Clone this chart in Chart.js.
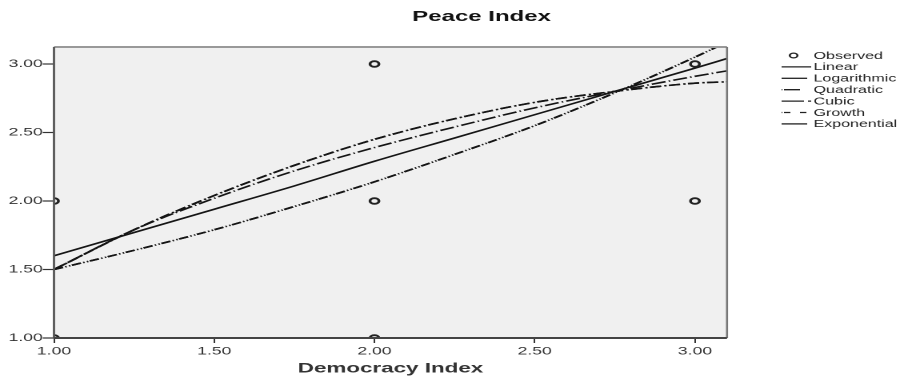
<!DOCTYPE html>
<html>
<head>
<meta charset="utf-8">
<script src="https://cdn.jsdelivr.net/npm/chart.js@4.4.1/dist/chart.umd.min.js"></script>
<style>
  html, body { margin:0; padding:0; background:#fff; overflow:hidden }
  /* the SPSS export is stretched sideways, so draw narrow and stretch */
  #wrap { width:565px; height:377px; transform:scaleX(1.6); transform-origin:0 0 }
</style>
</head>
<body>
<div id="wrap"><canvas id="chart" width="565" height="377"></canvas></div>
<script>
const chartTitle = "Peace Index"
const xTitle = "Democracy Index"

/* observed cases */
const obsX = [1, 1, 2, 2, 2, 3, 3]
const obsY = [2, 1, 3, 2, 1, 3, 2]

/* fitted curves at these x values */
const fitX        = [1.00, 1.25, 1.50, 1.75, 2.00, 2.25, 2.50, 2.75, 3.00, 3.10]
const linear      = [1.60, 1.77, 1.94, 2.11, 2.29, 2.46, 2.63, 2.80, 2.97, 3.04]
const logarithmic = [1.50, 1.79, 2.02, 2.22, 2.39, 2.54, 2.68, 2.80, 2.91, 2.95]
const quadratic   = [1.50, 1.79, 2.04, 2.26, 2.45, 2.60, 2.72, 2.80, 2.86, 2.87]
const cubic       = [1.50, 1.79, 2.04, 2.26, 2.45, 2.60, 2.72, 2.80, 2.86, 2.87]
const growth      = [1.50, 1.64, 1.79, 1.96, 2.14, 2.34, 2.55, 2.79, 3.05, 3.16]
const exponential = [1.50, 1.64, 1.79, 1.96, 2.14, 2.34, 2.55, 2.79, 3.05, 3.16]

const xTicks = [1.0, 1.5, 2.0, 2.5, 3.0]
const yTicks = [1.0, 1.5, 2.0, 2.5, 3.0]

const FONT = "'Liberation Sans', Arial, sans-serif"

// dash = pattern in the plot, keyDash = pattern in the legend key
function curve(label, ys, dash, keyDash){
  return {
    label,
    data: fitX.map((x, i) => ({ x, y: ys[i] })),
    showLine: true,
    borderColor: "#151515",
    borderWidth: 1.6,
    borderDash: dash,
    keyDash: keyDash,
    pointRadius: 0,
    cubicInterpolationMode: "monotone",
    fill: false
  }
}

/* =========================
   PLOT FRAME + TITLE + LEGEND
========================= */
const framePlugin = {
  id: "frame",
  beforeDraw(chart){
    const { ctx, chartArea: a } = chart
    ctx.save()
    ctx.fillStyle = "#f0f0f0"
    ctx.fillRect(a.left, a.top, a.right - a.left, a.bottom - a.top)
    ctx.restore()
  },
  afterDatasetsDraw(chart){
    const { ctx, chartArea: a } = chart
    ctx.save()
    const line = (x1, y1, x2, y2, c, w) => {
      ctx.strokeStyle = c
      ctx.lineWidth = w
      ctx.beginPath()
      ctx.moveTo(x1, y1)
      ctx.lineTo(x2, y2)
      ctx.stroke()
    }
    line(a.left, a.top, a.right, a.top, "#999", 2)
    line(a.right, a.top, a.right, a.bottom, "#777", 1.3)
    line(a.left, a.top, a.left, a.bottom, "#555", 1.4)
    line(a.left, a.bottom, a.right, a.bottom, "#444", 2)
    ctx.restore()
  },
  afterDraw(chart){
    const ctx = chart.ctx
    ctx.save()

    // title
    ctx.font = "bold 15px " + FONT
    ctx.fillStyle = "#111"
    ctx.textAlign = "center"
    ctx.textBaseline = "middle"
    ctx.fillText(chartTitle, 301, 17)

    // legend
    const x0 = 488.5, x1 = 507, textX = 508.5, y0 = 55.5, step = 11.4
    ctx.font = "10px " + FONT
    ctx.textAlign = "left"
    chart.data.datasets.forEach((ds, i) => {
      const y = y0 + i * step
      ctx.strokeStyle = "#222"
      ctx.lineWidth = 1.3
      if(ds.showLine){
        ctx.setLineDash(ds.keyDash || [])
        ctx.beginPath()
        ctx.moveTo(x0, y)
        ctx.lineTo(x1, y)
        ctx.stroke()
        ctx.setLineDash([])
      } else {
        ctx.beginPath()
        ctx.arc(496, y, 2.4, 0, Math.PI * 2)
        ctx.stroke()
      }
      ctx.fillStyle = "#222"
      ctx.fillText(ds.label, textX, y + 0.5)
    })
    ctx.restore()
  }
}

new Chart(document.getElementById("chart"), {
  type: "scatter",
  data: {
    datasets: [
      {
        label: "Observed",
        data: obsX.map((x, i) => ({ x, y: obsY[i] })),
        showLine: false,
        pointRadius: 2.8,
        pointBorderWidth: 1.8,
        pointBorderColor: "#222",
        pointBackgroundColor: "rgba(0,0,0,0)",
        clip: 0
      },
      curve("Linear", linear, [], []),
      curve("Logarithmic", logarithmic, [9, 2, 1, 2], [16, 2.5, 1, 2.5]),
      curve("Quadratic", quadratic, [7, 5], [0.5, 1, 10, 20]),
      curve("Cubic", cubic, [7, 2, 1.5, 1.5], [14, 2.5, 3, 2.5]),
      curve("Growth", growth, [6, 6], [0.5, 1, 4, 6, 4, 20]),
      curve("Exponential", exponential, [6, 1.5, 1, 1.5, 1, 1], [16, 2.5, 1, 2.5])
    ]
  },
  options: {
    responsive: false,
    devicePixelRatio: 2,
    animation: false,
    events: [],
    layout: { padding: { top: 47, right: 110.6, left: 0, bottom: 0 } },
    plugins: {
      legend: { display: false },
      tooltip: { enabled: false },
      title: { display: false }
    },
    scales: {
      x: {
        type: "linear",
        min: 1,
        max: 3.1,
        afterBuildTicks: s => { s.ticks = xTicks.map(v => ({ value: v })) },
        afterFit: s => { s.height = 39 },
        ticks: {
          callback: v => Number(v).toFixed(2),
          color: "#333",
          font: { size: 11, family: FONT },
          padding: 2,
          maxRotation: 0,
          autoSkip: false
        },
        grid: { drawOnChartArea: false, drawTicks: true, tickLength: 5, tickColor: "#333", tickWidth: 1 },
        border: { display: false },
        title: {
          display: true,
          text: xTitle,
          color: "#333",
          font: { size: 14, weight: "bold", family: FONT },
          padding: { top: 0, bottom: 0 }
        }
      },
      y: {
        type: "linear",
        min: 1,
        max: 3.124,
        afterBuildTicks: s => { s.ticks = yTicks.map(v => ({ value: v })) },
        afterFit: s => { s.width = 33.75 },
        ticks: {
          callback: v => Number(v).toFixed(2),
          color: "#333",
          font: { size: 11, family: FONT },
          padding: 0,
          autoSkip: false
        },
        grid: { drawOnChartArea: false, drawTicks: true, tickLength: 7, tickColor: "#333", tickWidth: 1.2 },
        border: { display: false }
      }
    }
  },
  plugins: [framePlugin]
})
</script>
</body>
</html>
